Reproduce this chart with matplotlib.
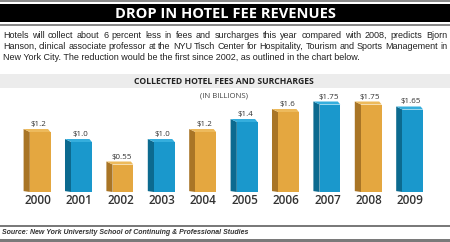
import matplotlib
matplotlib.use("Agg")
import matplotlib.pyplot as plt
from matplotlib.patches import Rectangle, Polygon

years = ["2000", "2001", "2002", "2003", "2004", "2005", "2006", "2007", "2008", "2009"]
values = [1.2, 1.0, 0.55, 1.0, 1.2, 1.4, 1.6, 1.75, 1.75, 1.65]
labels = ["$1.2", "$1.0", "$0.55", "$1.0", "$1.2", "$1.4", "$1.6", "$1.75", "$1.75", "$1.65"]
colors = ["gold", "blue", "gold", "blue", "gold", "blue", "gold", "blue", "gold", "blue"]

title = "DROP IN HOTEL FEE REVENUES"
para = ["Hotels will collect about 6 percent less in fees and surcharges this year compared with 2008, predicts Bjorn",
        "Hanson, clinical associate professor at the NYU Tisch Center for Hospitality, Tourism and Sports Management in",
        "New York City. The reduction would be the first since 2002, as outlined in the chart below."]
subtitle = "COLLECTED HOTEL FEES AND SURCHARGES"
unit = "(IN BILLIONS)"
source = "Source: New York University School of Continuing & Professional Studies"

pal = {"gold": ("#E4A740", "#A97526", "#EDBA5C"),
       "blue": ("#1A98CC", "#0C6A8F", "#35AEDD")}

W, H = 450, 242
fig = plt.figure(figsize=(W / 100, H / 100), dpi=100)
fig.patch.set_facecolor("white")

def fy(py):
    return 1 - py / H

def frect(x0, y0, x1, y1, color):
    fig.patches.append(Rectangle((x0 / W, fy(y1)), (x1 - x0) / W, (y1 - y0) / H,
                                 transform=fig.transFigure, color=color, lw=0, zorder=0))

# header rules
frect(0, 0, W, 2, "#8a8a8a")
frect(0, 4, W, 22, "#000000")
frect(0, 24, W, 26, "#8a8a8a")
# subtitle band
frect(0, 74, W, 88, "#ececec")
# footer rules
frect(0, 224.5, W, 226.5, "#7a7a7a")
frect(0, 238.5, W, 242, "#7a7a7a")

fig.text(0.5, fy(13.5), title, color="white", fontsize=10.5, fontweight="bold",
         family="Open Sans", ha="center", va="center")

# justified paragraph
fig.canvas.draw()
rend = fig.canvas.get_renderer()
pfont = dict(fontsize=6.45, family="Liberation Sans", color="#222222")
line_y = [35, 46.5, 58]
xL, xR = 3, 447
for i, line in enumerate(para):
    words = line.split(" ")
    if i < len(para) - 1:
        widths = []
        for w in words:
            t = fig.text(0, 0, w, **pfont)
            widths.append(t.get_window_extent(rend).width)
            t.remove()
        gap = (xR - xL - sum(widths)) / (len(words) - 1)
        x = xL
        for w, wd in zip(words, widths):
            fig.text(x / W, fy(line_y[i]), w, va="center", ha="left", **pfont)
            x += wd + gap
    else:
        fig.text(xL / W, fy(line_y[i]), line, va="center", ha="left", **pfont)

fig.text(224 / W, fy(81), subtitle, fontsize=6.2, fontweight="bold", family="Open Sans",
         color="#222222", ha="center", va="center")
fig.text(224 / W, fy(95.5), unit, fontsize=5.6, family="Open Sans", color="#444444",
         ha="center", va="center")
fig.text(2 / W, fy(232), source, fontsize=5.05, fontweight="bold", style="italic",
         family="Liberation Sans", color="#333333", ha="left", va="center")

# chart axes: baseline at y=192px, 50 px per billion
ax = fig.add_axes([17.8 / W, (H - 192) / H, 414 / W, 100 / H])
ax.set_xlim(-0.5, 9.5)
ax.set_ylim(0, 2.0)
ax.axis("off")

bw = 0.5
dx = 0.15   # depth (x, index units)
dy = 0.06   # depth (y, value units)
xs = [i + 0.04 for i in range(len(values))]
fronts = [pal[c][0] for c in colors]
ax.bar(xs, values, width=bw, color=fronts, zorder=3, linewidth=0)
for x, v, c in zip(xs, values, colors):
    front, side, top = pal[c]
    x0, x1 = x - bw / 2, x + bw / 2
    ax.add_patch(Polygon([(x0, 0), (x0, v), (x0 - dx, v + dy), (x0 - dx, dy * 0.3)],
                         closed=True, color=side, lw=0, zorder=2))
    ax.add_patch(Polygon([(x0, v), (x1, v), (x1 - dx * 0.4, v + dy), (x0 - dx, v + dy)],
                         closed=True, color=top, lw=0, zorder=2))

for x, v, lab in zip(xs, values, labels):
    ax.text(x - 0.04, v + 0.15, lab, ha="center", va="center", fontsize=5.8,
            family="Open Sans", color="#333333")

for i, y in enumerate(years):
    ax.text(i - 0.02, -0.16, y, ha="center", va="center", fontsize=8.5,
            family="Open Sans", fontweight="semibold", color="#333333", clip_on=False)

fig.savefig("out.png", dpi=100, facecolor="white")
